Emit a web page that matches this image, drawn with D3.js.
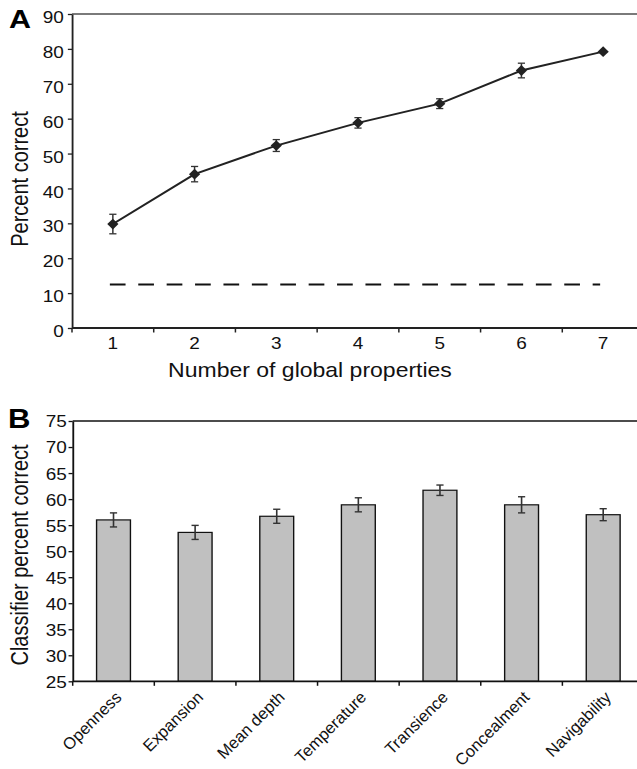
<!DOCTYPE html>
<html><head><meta charset="utf-8">
<script src="https://cdn.jsdelivr.net/npm/d3@7"></script>
<style>html,body{margin:0;padding:0;background:#fff}svg{display:block}</style>
</head><body><div id="chart"></div>
<script>
// ---- Data: panel A ----
const numProperties = [1, 2, 3, 4, 5, 6, 7];
const percentCorrect = [29.8, 44.1, 52.3, 58.8, 64.3, 73.8, 79.2];
const percentError = [2.8, 2.2, 1.7, 1.5, 1.4, 2.1, 0];
const chanceLevel = 12.5;
const yTicksA = [0, 10, 20, 30, 40, 50, 60, 70, 80, 90];

// ---- Data: panel B ----
const propertyNames = ["Openness", "Expansion", "Mean depth", "Temperature", "Transience", "Concealment", "Navigability"];
const classifierCorrect = [56.0, 53.6, 56.7, 58.9, 61.7, 58.9, 57.0];
const classifierError = [1.35, 1.35, 1.35, 1.35, 1.0, 1.55, 1.15];
const yTicksB = [25, 30, 35, 40, 45, 50, 55, 60, 65, 70, 75];

// ---- Layout ----
const WIDTH = 637, HEIGHT = 769, SX = 1.15, VW = WIDTH / SX;
const FONT = "'Liberation Sans', Arial, Helvetica, sans-serif";
const LEFT = 72 / SX, RIGHT = 644 / SX;
const TICK_FS = 16.5;

const svg = d3.select("#chart").append("svg")
  .attr("width", WIDTH).attr("height", HEIGHT)
  .attr("viewBox", `0 0 ${VW} ${HEIGHT}`)
  .attr("preserveAspectRatio", "none")
  .style("font-family", FONT);

// ================= Panel A =================
const xA = d3.scaleBand().domain(numProperties).range([LEFT, RIGHT]);
const yA = d3.scaleLinear().domain([0, 90]).range([328, 14]);
const cxA = d => xA(d) + xA.bandwidth() / 2;
const gA = svg.append("g");

gA.append("line").attr("x1", LEFT).attr("x2", VW).attr("y1", yA(90)).attr("y2", yA(90))
  .attr("stroke", "#7a7a7a").attr("stroke-width", 1.8);

gA.append("g").attr("transform", `translate(${LEFT},0)`)
  .call(d3.axisLeft(yA).tickValues(yTicksA).tickSize(3.6).tickSizeOuter(0).tickPadding(3.5))
  .attr("font-family", FONT)
  .call(g => g.select(".domain").attr("stroke", "#222").attr("stroke-width", 1.6))
  .call(g => g.selectAll(".tick line").attr("stroke", "#222").attr("stroke-width", 1.3))
  .call(g => g.selectAll(".tick text").attr("font-size", TICK_FS).attr("fill", "#111").attr("dy", "0.52em"));

gA.append("line").attr("x1", LEFT).attr("x2", VW).attr("y1", yA(0)).attr("y2", yA(0))
  .attr("stroke", "#222").attr("stroke-width", 1.8);
gA.selectAll(".xtickA").data(numProperties).join("line")
  .attr("x1", d => xA(d)).attr("x2", d => xA(d))
  .attr("y1", yA(0)).attr("y2", yA(0) + 4.5)
  .attr("stroke", "#222").attr("stroke-width", 1.3);
gA.selectAll(".xlabA").data(numProperties).join("text")
  .attr("x", d => cxA(d)).attr("y", 349.5).attr("text-anchor", "middle")
  .attr("font-size", TICK_FS).attr("fill", "#111").text(d => d);

gA.append("text").attr("x", 310 / SX).attr("y", 377).attr("text-anchor", "middle")
  .attr("font-size", 20).attr("fill", "#111").text("Number of global properties");
gA.append("text").attr("transform", `translate(${28.3 / SX},179) rotate(-90)`).attr("text-anchor", "middle")
  .attr("font-size", 20).attr("fill", "#111").text("Percent correct");
gA.append("text").attr("x", 9 / SX).attr("y", 28.3).attr("font-size", 26.5).attr("font-weight", "bold")
  .attr("fill", "#000").text("A");

// chance line
gA.append("line").attr("x1", cxA(1) - 3 / SX).attr("x2", cxA(7) - 3 / SX)
  .attr("y1", yA(chanceLevel)).attr("y2", yA(chanceLevel))
  .attr("stroke", "#111").attr("stroke-width", 2).attr("stroke-dasharray", `${15.7 / SX},${12.7 / SX}`);

const ptsA = numProperties.map((d, i) => ({ x: d, y: percentCorrect[i], e: percentError[i] }));
gA.append("path").datum(ptsA)
  .attr("d", d3.line().x(p => cxA(p.x)).y(p => yA(p.y)))
  .attr("fill", "none").attr("stroke", "#222").attr("stroke-width", 1.9);

const capA = 3.6 / SX;
const eb = gA.selectAll(".ebA").data(ptsA.filter(p => p.e > 0)).join("g")
  .attr("stroke", "#333").attr("stroke-width", 1.3);
eb.append("line").attr("x1", p => cxA(p.x)).attr("x2", p => cxA(p.x))
  .attr("y1", p => yA(p.y - p.e)).attr("y2", p => yA(p.y + p.e));
eb.append("line").attr("x1", p => cxA(p.x) - capA).attr("x2", p => cxA(p.x) + capA)
  .attr("y1", p => yA(p.y + p.e)).attr("y2", p => yA(p.y + p.e));
eb.append("line").attr("x1", p => cxA(p.x) - capA).attr("x2", p => cxA(p.x) + capA)
  .attr("y1", p => yA(p.y - p.e)).attr("y2", p => yA(p.y - p.e));

const dw = 5.6 / SX, dh = 5.4;
gA.selectAll(".mkA").data(ptsA).join("path")
  .attr("transform", p => `translate(${cxA(p.x)},${yA(p.y)})`)
  .attr("d", `M0,${-dh}L${dw},0L0,${dh}L${-dw},0Z`)
  .attr("fill", "#222");

// ================= Panel B =================
const xB = d3.scaleBand().domain(propertyNames).range([72.7 / SX, RIGHT]);
const yB = d3.scaleLinear().domain([25, 75]).range([681.3, 421]);
const cxB = d => xB(d) + xB.bandwidth() / 2;
const barW = xB.bandwidth() * 0.415;
const gB = svg.append("g");
const ptsB = propertyNames.map((d, i) => ({ name: d, v: classifierCorrect[i], e: classifierError[i] }));

gB.append("line").attr("x1", 72.7 / SX).attr("x2", VW).attr("y1", yB(75)).attr("y2", yB(75))
  .attr("stroke", "#111").attr("stroke-width", 1.4);

gB.selectAll(".barB").data(ptsB).join("rect")
  .attr("x", p => cxB(p.name) - barW / 2).attr("width", barW)
  .attr("y", p => yB(p.v)).attr("height", p => yB(25) - yB(p.v))
  .attr("fill", "#c0c0c0").attr("stroke", "#111").attr("stroke-width", 1.2);

gB.append("g").attr("transform", `translate(${72.7 / SX},0)`)
  .call(d3.axisLeft(yB).tickValues(yTicksB).tickSize(3.6).tickSizeOuter(0).tickPadding(1.5))
  .attr("font-family", FONT)
  .call(g => g.select(".domain").attr("stroke", "#111").attr("stroke-width", 1.6))
  .call(g => g.selectAll(".tick line").attr("stroke", "#111").attr("stroke-width", 1.3))
  .call(g => g.selectAll(".tick text").attr("font-size", TICK_FS).attr("fill", "#111").attr("dy", "0.36em"));

gB.append("line").attr("x1", 72.7 / SX).attr("x2", VW).attr("y1", yB(25)).attr("y2", yB(25))
  .attr("stroke", "#111").attr("stroke-width", 1.8);
gB.selectAll(".xtickB").data(propertyNames).join("line")
  .attr("x1", d => xB(d)).attr("x2", d => xB(d))
  .attr("y1", yB(25)).attr("y2", yB(25) + 4.5)
  .attr("stroke", "#111").attr("stroke-width", 1.3);

const capB = 3.6 / SX;
const ebB = gB.selectAll(".ebB").data(ptsB).join("g").attr("stroke", "#333").attr("stroke-width", 1.4);
ebB.append("line").attr("x1", p => cxB(p.name)).attr("x2", p => cxB(p.name))
  .attr("y1", p => yB(p.v - p.e)).attr("y2", p => yB(p.v + p.e));
ebB.append("line").attr("x1", p => cxB(p.name) - capB).attr("x2", p => cxB(p.name) + capB)
  .attr("y1", p => yB(p.v + p.e)).attr("y2", p => yB(p.v + p.e));
ebB.append("line").attr("x1", p => cxB(p.name) - capB).attr("x2", p => cxB(p.name) + capB)
  .attr("y1", p => yB(p.v - p.e)).attr("y2", p => yB(p.v - p.e));

// rotated category labels: undo the horizontal stretch so they sit at 45° on screen
gB.selectAll(".xlabB").data(propertyNames).join("text")
  .attr("transform", d => `translate(${cxB(d) + 9 / SX},${yB(25) + 17}) scale(${1 / SX},1) rotate(-45)`)
  .attr("text-anchor", "end").attr("font-size", 16.5).attr("fill", "#111").text(d => d);

gB.append("text").attr("transform", `translate(${28.3 / SX},555) rotate(-90)`).attr("text-anchor", "middle")
  .attr("font-size", 20).attr("fill", "#111").text("Classifier percent correct");
gB.append("text").attr("x", 8 / SX).attr("y", 428.5).attr("font-size", 27).attr("font-weight", "bold")
  .attr("fill", "#000").text("B");
</script>
</body></html>
